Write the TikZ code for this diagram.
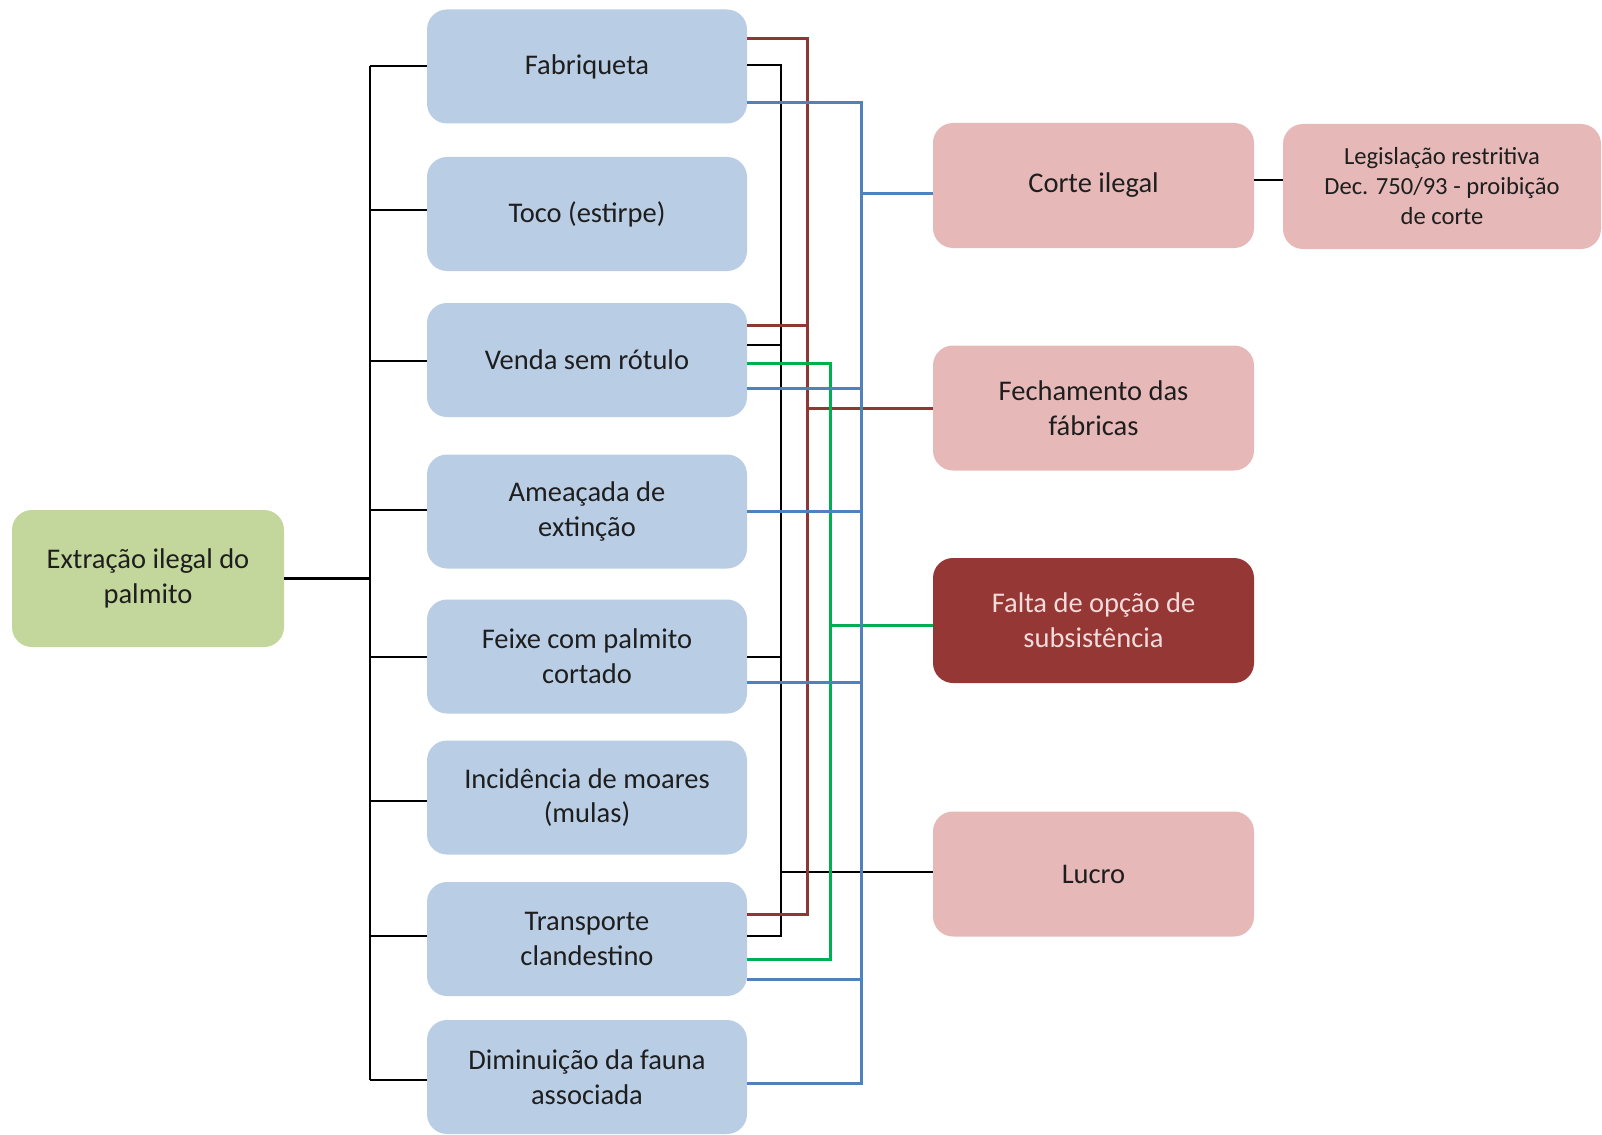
\documentclass[tikz,border=0pt]{standalone}
\usepackage{fontspec}
\setmainfont{Carlito}
\usetikzlibrary{calc}

\definecolor{boxblue}{HTML}{B9CDE5}
\definecolor{boxgreen}{HTML}{C3D69B}
\definecolor{boxpink}{HTML}{E6B9B8}
\definecolor{boxdark}{HTML}{953735}
\definecolor{txtlight}{HTML}{F2DCDB}
\definecolor{txtdark}{HTML}{1E1E1E}
\definecolor{lnred}{HTML}{8E3836}
\definecolor{lnblue}{HTML}{4F81BD}
\definecolor{lngreen}{HTML}{00B050}

\tikzset{
  card/.style={rectangle, rounded corners=20pt, inner sep=0pt, align=center,
    text=txtdark, font=\fontsize{28.5}{34.7}\selectfont},
  causebox/.style={card, fill=boxblue, minimum width=320pt, minimum height=114pt},
  rootbox/.style={card, fill=boxgreen, minimum width=272pt, minimum height=137pt},
  effectbox/.style={card, fill=boxpink, minimum width=321pt, minimum height=125pt},
  keybox/.style={effectbox, fill=boxdark, text=txtlight},
  lawbox/.style={effectbox, minimum width=318pt, font=\fontsize{24.6}{30}\selectfont},
  kline/.style={draw=black, line width=2.6pt},
  rline/.style={draw=lnred, line width=3pt},
  gline/.style={draw=lngreen, line width=3pt},
  bline/.style={draw=lnblue, line width=3pt},
}

\begin{document}
\begin{tikzpicture}[x=1pt, y=-1pt]
  % canvas
  \fill[white] (0,0) rectangle (1602,1134);
  \useasboundingbox (0,0) rectangle (1602,1134);

  % bus positions
  \coordinate (busL) at (370,0);
  \coordinate (busK) at (781,0);
  \coordinate (busR) at (807,0);
  \coordinate (busG) at (830,0);
  \coordinate (busB) at (861,0);

  % root
  \node[rootbox] (src) at (148,578.5) {Extração ilegal do\\palmito};

  % causes
  \node[causebox] (fab)    at (587,66.5)  {Fabriqueta};
  \node[causebox] (toco)   at (587,214)   {Toco (estirpe)};
  \node[causebox] (venda)  at (587,360)   {Venda sem rótulo};
  \node[causebox] (amea)   at (587,511.5) {Ameaçada de\\extinção};
  \node[causebox] (feixe)  at (587,656.5) {Feixe com palmito\\cortado};
  \node[causebox] (incid)  at (587,797.5) {Incidência de moares\\(mulas)};
  \node[causebox] (transp) at (587,939)   {Transporte\\clandestino};
  \node[causebox] (dimin)  at (587,1077)  {Diminuição da fauna\\associada};

  % effects
  \node[effectbox] (corte) at (1093.5,185.5) {Corte ilegal};
  \node[effectbox] (fech)  at (1093.5,408)   {Fechamento das\\fábricas};
  \node[keybox]    (falta) at (1093.5,620.5) {Falta de opção de\\subsistência};
  \node[effectbox] (lucro) at (1093.5,874)   {Lucro};
  \node[lawbox]    (legis) at (1442,186.5)   {Legislação restritiva\\Dec. 750/93 - proibição\\de corte};

  % tree from the root to the causes
  \draw[kline] (src.east) -- (busL |- src.east);
  \draw[kline] (busL |- 0,66) -- (busL |- 0,1080);
  \draw[kline] (busL |- 0,66)   -- (fab.west |- 0,66);
  \draw[kline] (busL |- 0,210)  -- (toco.west |- 0,210);
  \draw[kline] (busL |- 0,361)  -- (venda.west |- 0,361);
  \draw[kline] (busL |- 0,510)  -- (amea.west |- 0,510);
  \draw[kline] (busL |- 0,657)  -- (feixe.west |- 0,657);
  \draw[kline] (busL |- 0,801)  -- (incid.west |- 0,801);
  \draw[kline] (busL |- 0,936)  -- (transp.west |- 0,936);
  \draw[kline] (busL |- 0,1080) -- (dimin.west |- 0,1080);

  % black links to Lucro
  \draw[kline] (fab.east |- 0,65) -| (busK |- 0,936) -- (transp.east |- 0,936);
  \draw[kline] (venda.east |- 0,345) -- (busK |- 0,345);
  \draw[kline] (feixe.east |- 0,657) -- (busK |- 0,657);
  \draw[kline] (busK |- 0,872) -- (lucro.west |- 0,872);

  % red links to Fechamento das fábricas
  \draw[rline] (fab.east |- 0,39) -| (busR |- 0,914) -- (transp.east |- 0,914);
  \draw[rline] (venda.east |- 0,325) -- (busR |- 0,325);
  \draw[rline] (busR |- 0,408) -- (fech.west |- 0,408);

  % green links to Falta de opção de subsistência
  \draw[gline] (venda.east |- 0,363) -| (busG |- 0,959) -- (transp.east |- 0,959);
  \draw[gline] (busG |- 0,625) -- (falta.west |- 0,625);

  % blue links to Corte ilegal
  \draw[bline] (fab.east |- 0,103) -| (busB |- 0,1083) -- (dimin.east |- 0,1083);
  \draw[bline] (venda.east |- 0,388) -- (busB |- 0,388);
  \draw[bline] (amea.east |- 0,511) -- (busB |- 0,511);
  \draw[bline] (feixe.east |- 0,682) -- (busB |- 0,682);
  \draw[bline] (transp.east |- 0,979) -- (busB |- 0,979);
  \draw[bline] (busB |- 0,193) -- (corte.west |- 0,193);

  % Corte ilegal to the legislation
  \draw[kline] (corte.east |- 0,180) -- (legis.west |- 0,180);
\end{tikzpicture}
\end{document}
